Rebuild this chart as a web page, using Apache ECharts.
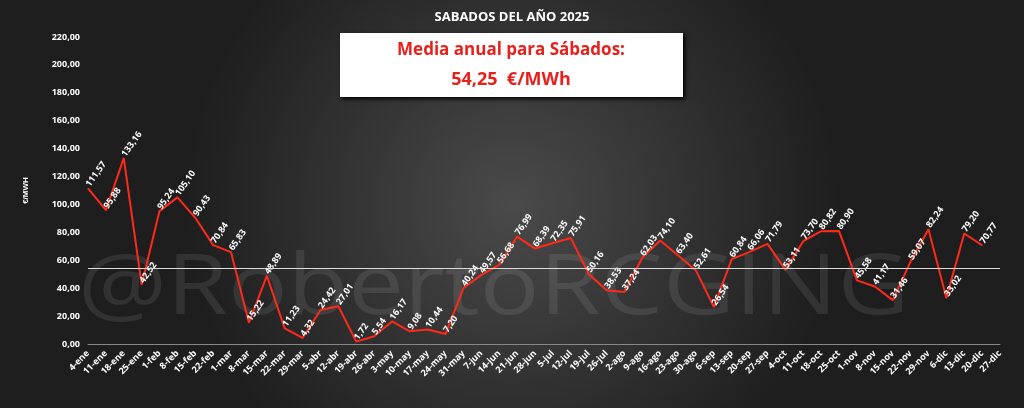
<!DOCTYPE html><html><head><meta charset="utf-8"><script src="https://cdn.jsdelivr.net/npm/echarts@6/dist/echarts.min.js"></script>
<style>html,body{margin:0;padding:0;background:#2a2a2a}#c{width:1024px;height:408px}</style></head><body><div id="c"></div><script>
const categories=["4-ene","11-ene","18-ene","25-ene","1-feb","8-feb","15-feb","22-feb","1-mar","8-mar","15-mar","22-mar","29-mar","5-abr","12-abr","19-abr","26-abr","3-may","10-may","17-may","24-may","31-may","7-jun","14-jun","21-jun","28-jun","5-jul","12-jul","19-jul","26-jul","2-ago","9-ago","16-ago","23-ago","30-ago","6-sep","13-sep","20-sep","27-sep","4-oct","11-oct","18-oct","25-oct","1-nov","8-nov","15-nov","22-nov","29-nov","6-dic","13-dic","20-dic","27-dic"];
const prices=[111.57,95.88,133.16,42.52,95.24,105.10,90.43,70.84,65.83,15.22,48.89,11.23,4.32,24.42,27.01,1.72,5.54,16.17,9.08,10.44,7.20,40.24,49.57,56.68,76.99,68.39,72.35,75.91,50.16,38.53,37.24,62.03,74.10,63.40,52.61,26.54,60.84,66.06,71.79,53.11,73.70,80.82,80.90,45.58,41.17,31.46,59.07,82.24,33.02,79.20,70.77,null];
const average=54.25;
const fmt=v=>v.toFixed(2).replace('.',',');
const chart=echarts.init(document.getElementById('c'));
chart.setOption({
 backgroundColor:{type:'radial',x:0.5,y:0.5,r:0.8,colorStops:[{offset:0,color:'#4a4a4a'},{offset:1,color:'#1e1e1e'}]},
 title:{text:'SABADOS DEL AÑO 2025',left:'center',top:6,textStyle:{color:'#fff',fontSize:13,fontWeight:'bold',fontFamily:'Open Sans'}},
 graphic:[
  {type:'text',left:78,top:248,style:{text:'@RobertoRCGING',fill:'rgba(255,255,255,0.09)',font:'84px Open Sans',width:820},scaleX:1.18,z:0},
  {type:'rect',shape:{x:340,y:33,width:343,height:64},style:{fill:'#fff',shadow:'rgba(0,0,0,0.5)',shadowBlur:4,shadowOffsetX:2,shadowOffsetY:2},z:10},
  {type:'text',x:511,y:50,style:{text:'Media anual para Sábados:',fill:'#e8201c',font:'bold 17px Open Sans',align:'center',verticalAlign:'middle'},z:11},
  {type:'text',x:511,y:80,style:{text:fmt(average)+'  €/MWh',fill:'#e8201c',font:'bold 18px Open Sans',align:'center',verticalAlign:'middle'},z:11}
 ],
 grid:{left:88,right:24,top:37,bottom:64},
 xAxis:{type:'category',data:categories,boundaryGap:false,axisLine:{lineStyle:{color:'#888'}},axisTick:{show:false},
  axisLabel:{color:'#fff',fontSize:9,fontWeight:'bold',rotate:45,interval:0,fontFamily:'Open Sans'}},
 yAxis:{type:'value',min:0,max:220,interval:20,name:'€/MWH',nameLocation:'middle',nameGap:58,nameRotate:90,
  nameTextStyle:{color:'#fff',fontSize:8,fontWeight:'bold'},splitLine:{show:false},axisLine:{show:false},
  axisLabel:{color:'#fff',fontSize:9,fontWeight:'bold',formatter:v=>fmt(v),fontFamily:'Open Sans'}},
 series:[{type:'line',data:prices,symbol:'circle',symbolSize:1,showSymbol:true,itemStyle:{color:'#ff2a1a'},lineStyle:{color:'#ff2a1a',width:2},
  label:{show:true,color:'#fff',fontSize:9,fontWeight:'bold',rotate:55,align:'left',verticalAlign:'middle',position:'top',distance:2,formatter:p=>p.value==null?'':fmt(p.value),fontFamily:'Open Sans'},
  labelLayout:{hideOverlap:false},
  markLine:{silent:true,symbol:'none',label:{show:false},lineStyle:{color:'#ddd',width:1,type:'solid'},data:[{yAxis:average}]}}]
});
</script></body></html>
